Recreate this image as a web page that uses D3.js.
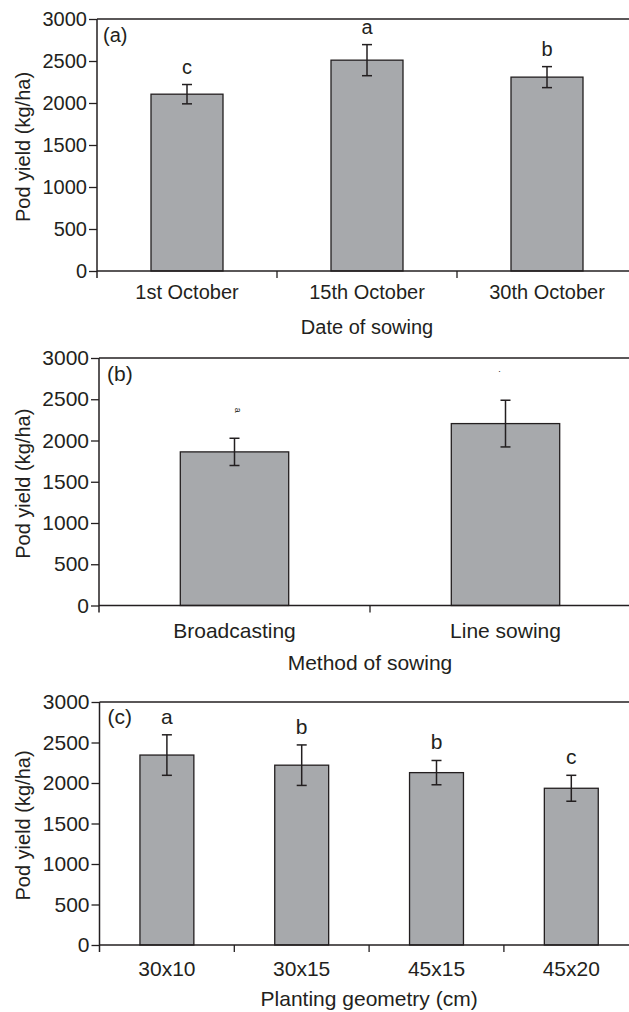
<!DOCTYPE html>
<html>
<head>
<meta charset="utf-8">
<script src="https://cdn.jsdelivr.net/npm/d3@7"></script>
<style>
  body { margin: 0; background: #fff; }
  svg { display: block; }
  text { font-family: "Liberation Sans", Arial, sans-serif; fill: #231f20; }
</style>
</head>
<body>
<svg id="chart" width="629" height="1012"></svg>
<script>
// panel (a) date of sowing
var dateCats = ["1st October", "15th October", "30th October"];
var dateMeans = [2105, 2510, 2308];
var dateErr = [115, 185, 125];
var dateLetters = ["c", "a", "b"];

// panel (b) method of sowing
var methodCats = ["Broadcasting", "Line sowing"];
var methodMeans = [1862, 2205];
var methodErr = [165, 283];
var methodLetters = ["a", "."];

// panel (c) planting geometry
var geoCats = ["30x10", "30x15", "45x15", "45x20"];
var geoMeans = [2345, 2220, 2128, 1935];
var geoErr = [250, 250, 150, 160];
var geoLetters = ["a", "b", "b", "c"];

var yTicks = [0, 500, 1000, 1500, 2000, 2500, 3000];
var yTitle = "Pod yield (kg/ha)";

var svg = d3.select('#chart');
var ink = "#231f20";

function drawPanel(p) {
    var g = svg.append('g');
    var n = p.cats.length;
    var right = p.axisX + p.step * n;

    var yScale = d3.scaleLinear().domain([0, 3000]).range([p.yZero, p.yTop]);
    var xScale = d3.scaleBand().domain(p.cats)
        .range([p.axisX, right])
        .paddingInner(0.6).paddingOuter(0.3);

    // top frame line
    g.append('line')
        .attr('x1', p.axisX).attr('x2', 640)
        .attr('y1', p.yTop).attr('y2', p.yTop)
        .attr('stroke', ink).attr('stroke-width', 1.3);

    // bars
    var rows = p.cats.map(function(c, i) {
        return {cat: c, mean: p.means[i], err: p.errs[i], letter: p.letters[i]};
    });
    g.selectAll('rect.bar').data(rows).enter().append('rect')
        .attr('class', 'bar')
        .attr('x', function(d) { return xScale(d.cat); })
        .attr('width', xScale.bandwidth())
        .attr('y', function(d) { return yScale(d.mean); })
        .attr('height', function(d) { return p.yZero - yScale(d.mean); })
        .attr('fill', '#a7a9ac')
        .attr('stroke', ink)
        .attr('stroke-width', 1.3);

    // error bars
    var cx = function(d) { return xScale(d.cat) + xScale.bandwidth() / 2; };
    var eb = g.selectAll('g.err').data(rows).enter().append('g').attr('class', 'err')
        .attr('stroke', ink).attr('stroke-width', 1.5);
    eb.append('line')
        .attr('x1', cx).attr('x2', cx)
        .attr('y1', function(d) { return yScale(d.mean + d.err); })
        .attr('y2', function(d) { return yScale(d.mean - d.err); });
    [1, -1].forEach(function(s) {
        eb.append('line')
            .attr('x1', function(d) { return cx(d) - 5; })
            .attr('x2', function(d) { return cx(d) + 5; })
            .attr('y1', function(d) { return yScale(d.mean + s * d.err); })
            .attr('y2', function(d) { return yScale(d.mean + s * d.err); });
    });

    // significance letters
    g.selectAll('text.letter').data(rows).enter().append('text')
        .attr('class', 'letter')
        .attr('text-anchor', 'middle')
        .attr('font-size', p.letterSize)
        .attr('transform', function(d) {
            return 'translate(' + cx(d) + ',' + (yScale(d.mean + d.err) - p.letterGap) + ')';
        })
        .text(function(d) { return d.letter; });

    // y axis
    var yAxis = d3.axisLeft(yScale).tickValues(yTicks).tickFormat(d3.format('d'))
        .tickSize(8).tickSizeOuter(0).tickPadding(2);
    var ya = g.append('g').attr('transform', 'translate(' + p.axisX + ',0)').call(yAxis);
    ya.select('.domain').remove();
    ya.selectAll('.tick line').attr('stroke', ink).attr('stroke-width', 1.3);
    ya.selectAll('.tick text')
        .attr('font-size', p.fontSize).attr('fill', ink)
        .attr('font-family', '"Liberation Sans", Arial, sans-serif');
    g.append('line')
        .attr('x1', p.axisX).attr('x2', p.axisX)
        .attr('y1', p.yTop).attr('y2', p.yZero + 7)
        .attr('stroke', ink).attr('stroke-width', 1.5);

    // x axis
    g.append('line')
        .attr('x1', p.axisX).attr('x2', 640)
        .attr('y1', p.yZero).attr('y2', p.yZero)
        .attr('stroke', ink).attr('stroke-width', 1.5);
    g.selectAll('line.xtick').data(d3.range(1, n + 1)).enter().append('line')
        .attr('class', 'xtick')
        .attr('x1', function(i) { return p.axisX + i * p.step; })
        .attr('x2', function(i) { return p.axisX + i * p.step; })
        .attr('y1', p.yZero).attr('y2', p.yZero + 7)
        .attr('stroke', ink).attr('stroke-width', 1.3);
    g.selectAll('text.xlab').data(rows).enter().append('text')
        .attr('class', 'xlab')
        .attr('text-anchor', 'middle')
        .attr('font-size', p.fontSize)
        .attr('x', cx)
        .attr('y', p.yZero + p.labelGap)
        .text(function(d) { return d.cat; });

    // axis titles
    g.append('text')
        .attr('text-anchor', 'middle')
        .attr('font-size', p.fontSize)
        .attr('x', (p.axisX + right) / 2)
        .attr('y', p.yZero + p.titleGap)
        .text(p.xTitle);
    g.append('text')
        .attr('text-anchor', 'middle')
        .attr('font-size', 20)
        .attr('transform', 'translate(' + p.yTitleX + ',' + ((p.yTop + p.yZero) / 2 + 2) + ') rotate(-90)')
        .text(yTitle);

    // panel tag
    g.append('text')
        .attr('font-size', p.fontSize)
        .attr('x', p.axisX + p.tagDx)
        .attr('y', p.yTop + p.tagDy)
        .text(p.tag);

    return g;
}

drawPanel({cats: dateCats, means: dateMeans, errs: dateErr, letters: dateLetters,
    axisX: 97, yTop: 19, yZero: 271, step: 180, fontSize: 20,
    letterSize: 20, letterGap: 11, labelGap: 28, titleGap: 63,
    yTitleX: 30, tagDx: 6, tagDy: 23, xTitle: "Date of sowing", tag: "(a)"});

var pb = drawPanel({cats: methodCats, means: methodMeans, errs: methodErr, letters: methodLetters,
    axisX: 99, yTop: 358, yZero: 605.5, step: 271, fontSize: 21,
    letterSize: 9, letterGap: 28, labelGap: 32, titleGap: 64,
    yTitleX: 30, tagDx: 8, tagDy: 23, xTitle: "Method of sowing", tag: "(b)"});
// the letters in (b) are misprinted in the source: one sideways, one a stray dot
pb.selectAll('text.letter').each(function(d, i) {
    var t = d3.select(this);
    if (i === 0) t.attr('transform', t.attr('transform') + ' rotate(90)');
    else t.attr('dx', -6);
});

drawPanel({cats: geoCats, means: geoMeans, errs: geoErr, letters: geoLetters,
    axisX: 99.5, yTop: 702, yZero: 945, step: 134.8, fontSize: 21,
    letterSize: 21, letterGap: 11, labelGap: 31, titleGap: 61,
    yTitleX: 30, tagDx: 8, tagDy: 22, xTitle: "Planting geometry (cm)", tag: "(c)"});
</script>
</body>
</html>
